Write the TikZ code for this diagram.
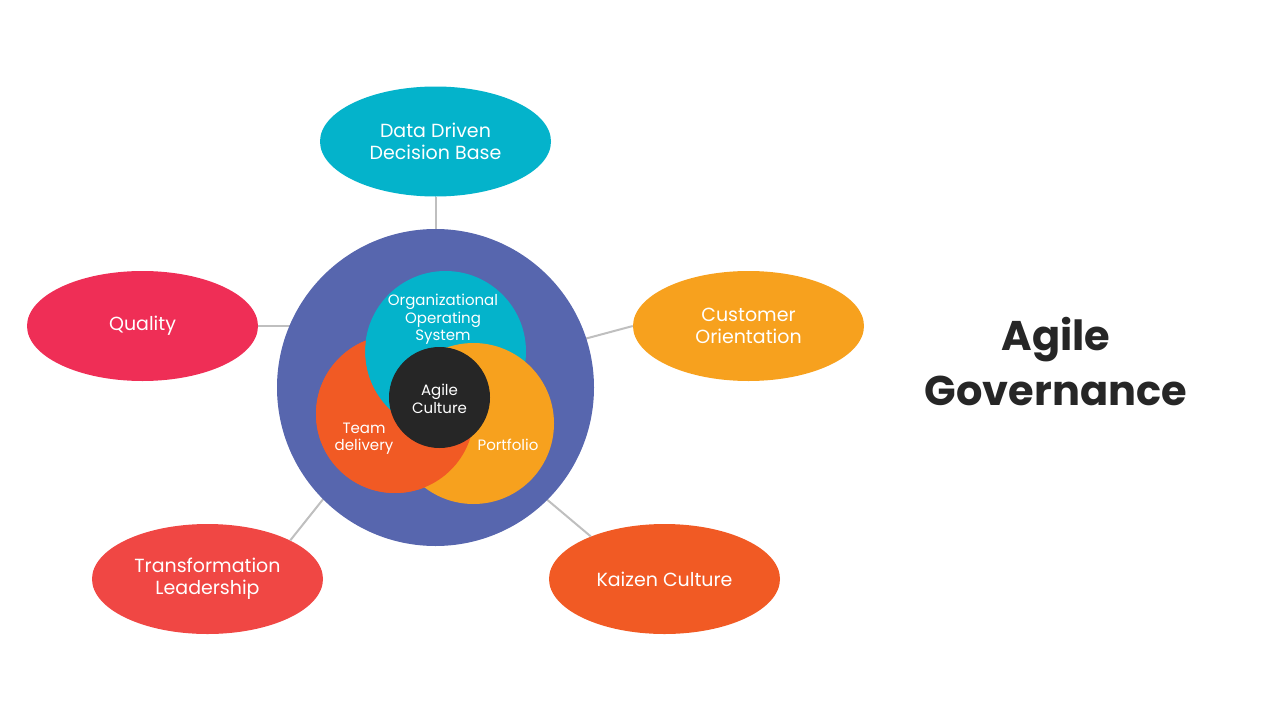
\documentclass[tikz,border=0pt]{standalone}
\usepackage{fontspec}
\setmainfont{Poppins}
\usetikzlibrary{shapes.geometric}
\definecolor{cblue}{HTML}{5766AE}
\definecolor{cteal}{HTML}{04B3CB}
\definecolor{cred}{HTML}{F15A24}
\definecolor{corange}{HTML}{F7A11E}
\definecolor{cdark}{HTML}{262626}
\definecolor{cpink}{HTML}{EF2E56}
\definecolor{ctomato}{HTML}{F04744}
\definecolor{cline}{HTML}{BFBFBF}
\begin{document}
\begin{tikzpicture}[x=1pt,y=-1pt,
  outer/.style={ellipse,minimum width=231pt,minimum height=110pt,inner sep=0pt,
    text=white,align=center,font=\fontsize{19}{22}\selectfont},
  disc/.style={circle,inner sep=0pt,draw=none},
  inlabel/.style={text=white,align=center,font=\fontsize{15}{17.5}\selectfont,inner sep=0pt},
  conn/.style={draw=cline,line width=2pt}]
\useasboundingbox (0,0) rectangle (1280,720);
% outer ellipses
\node[outer,fill=cteal] (dd) at (435.5,141.5) {Data Driven\\Decision Base};
\node[outer,fill=cpink] (qu) at (142.5,326) {Quality};
\node[outer,fill=corange] (co) at (748.5,326) {Customer\\Orientation};
\node[outer,fill=ctomato] (tl) at (207.5,579) {Transformation\\Leadership};
\node[outer,fill=cred] (kc) at (664.5,579) {Kaizen Culture};
% connector ends under the big circle
\coordinate (ddend) at (435.5,245);
\coordinate (quend) at (300,326);
\coordinate (coend) at (572,342.3);
\coordinate (tlend) at (332,488);
\coordinate (kcend) at (538,492);
\draw[conn] (dd.south) -- (ddend);
\draw[conn] (qu.east) -- (quend);
\draw[conn] (co.west) -- (coend);
\draw[conn] (tl.25.6) -- (tlend);
\draw[conn] (kc.150) -- (kcend);
% big circle
\node[disc,fill=cblue,minimum size=317pt] (big) at (435.5,387.5) {};
% inner circles
\node[disc,fill=cred,minimum size=158pt] (td) at (395,414) {};
\node[disc,fill=cteal,minimum size=161pt] (oos) at (445.5,351.5) {};
\node[disc,fill=corange,minimum size=161pt] (pf) at (473.5,423.5) {};
\begin{scope}
  \clip (395,414) circle (79);
  \fill[cred,even odd rule] (300,300) rectangle (600,520) (445.5,351.5) circle (80.5);
\end{scope}
\node[disc,fill=cdark,minimum size=101pt] (ac) at (439.5,397.5) {};
% labels
\node[inlabel] (oostext) at (443,319.5) {Organizational\\Operating\\System};
\node[inlabel] (actext) at (439.5,399) {Agile\\Culture};
\node[inlabel] (tdtext) at (364,438.5) {Team\\delivery};
\node[inlabel] (pftext) at (508,445) {Portfolio};
% title
\node[text=cdark,align=center,font=\bfseries\fontsize{41.5}{55}\selectfont,inner sep=0pt] (title) at (1056,362) {Agile\\Governance};
\end{tikzpicture}
\end{document}
